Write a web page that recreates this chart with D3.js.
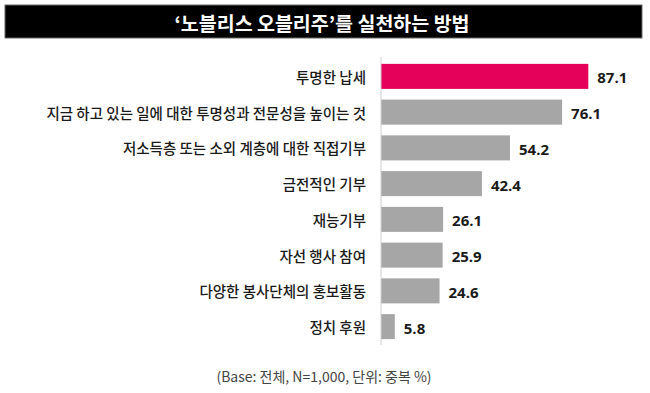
<!DOCTYPE html>
<html><head><meta charset="utf-8">
<script src="https://cdn.jsdelivr.net/npm/d3@7"></script>
<style>body{margin:0;background:#fff;}svg{display:block;}</style>
</head><body>
<svg id="c" width="650" height="393"></svg>
<script>
const categories = ["투명한 납세","지금 하고 있는 일에 대한 투명성과 전문성을 높이는 것","저소득층 또는 소외 계층에 대한 직접기부","금전적인 기부","재능기부","자선 행사 참여","다양한 봉사단체의 홍보활동","정치 후원"];
const values = [87.1,76.1,54.2,42.4,26.1,25.9,24.6,5.8];
const valueLabels = ["87.1","76.1","54.2","42.4","26.1","25.9","24.6","5.8"];
const title = "‘노블리스 오블리주’를 실천하는 방법";
const footnote = "(Base: 전체, N=1,000, 단위: 중복 %)";

const svg = d3.select("#c");
const font = "'Noto Sans CJK KR','Noto Sans',sans-serif";

svg.append("rect").attr("x",5).attr("y",5).attr("width",637).attr("height",33)
  .attr("fill","#000").attr("stroke","#666").attr("stroke-width",1);
svg.append("text").attr("x",322).attr("y",22).attr("text-anchor","middle")
  .attr("dominant-baseline","central").attr("fill","#fff")
  .attr("font-family",font).attr("font-weight","bold").attr("font-size",19.5).text(title);

const x0 = 381;
const x = d3.scaleLinear().domain([0,100]).range([x0, x0+238]);
const y = d3.scaleBand().domain(categories).range([58.5,344.5]).paddingInner(0.3).paddingOuter(0.15);

const g = svg.append("g");
g.selectAll("rect.bar").data(categories).join("rect").attr("class","bar")
  .attr("x",x(0)).attr("y",d=>y(d)).attr("height",y.bandwidth())
  .attr("width",(d,i)=>x(values[i])-x(0))
  .attr("fill",(d,i)=>i===0?"#e5005a":"#a6a6a6");

g.append("line").attr("x1",x0).attr("x2",x0).attr("y1",57).attr("y2",345)
  .attr("stroke","#d0d0d0").attr("stroke-width",1);

g.selectAll("text.cat").data(categories).join("text").attr("class","cat")
  .attr("x",366).attr("y",d=>y(d)+y.bandwidth()/2).attr("text-anchor","end")
  .attr("dominant-baseline","central").attr("fill","#1a1a1a")
  .attr("font-family",font).attr("font-weight",500).attr("font-size",14.5).text(d=>d);

g.selectAll("text.val").data(categories).join("text").attr("class","val")
  .attr("x",(d,i)=>x(values[i])+9).attr("y",d=>y(d)+y.bandwidth()/2+1)
  .attr("dominant-baseline","central").attr("fill","#1a1a1a")
  .attr("font-family","'Open Sans','Noto Sans',sans-serif").attr("font-weight","bold").attr("font-size",15)
  .text((d,i)=>valueLabels[i]);

svg.append("text").attr("x",324).attr("y",376).attr("text-anchor","middle")
  .attr("dominant-baseline","central").attr("fill","#444")
  .attr("font-family",font).attr("font-size",14).text(footnote);
</script>
</body></html>
